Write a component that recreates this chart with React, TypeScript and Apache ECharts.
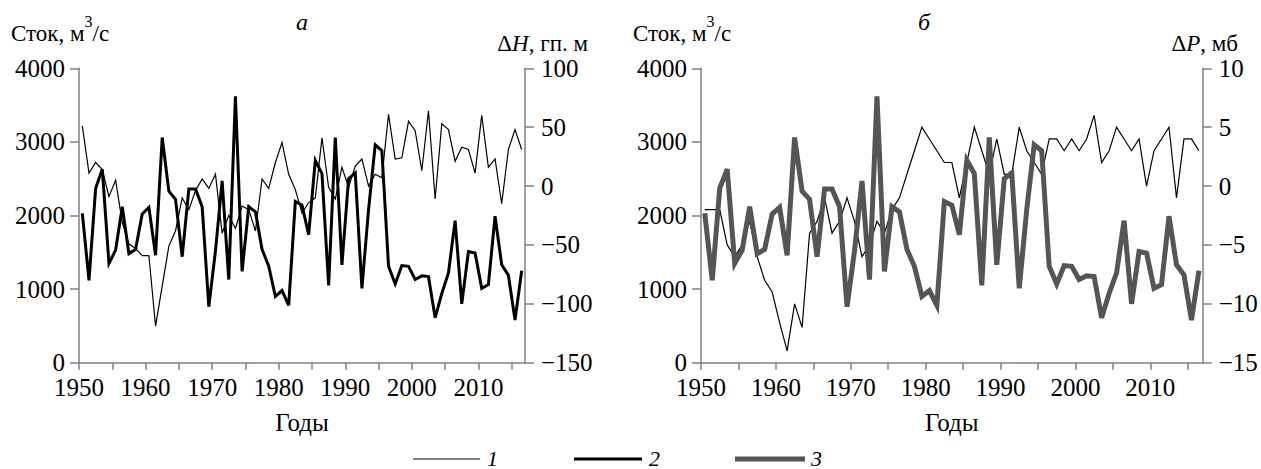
import React, { useEffect, useRef } from 'react';
import * as echarts from 'echarts';

const years = [
  1950, 1951, 1952, 1953, 1954, 1955, 1956, 1957, 1958, 1959,
  1960, 1961, 1962, 1963, 1964, 1965, 1966, 1967, 1968, 1969,
  1970, 1971, 1972, 1973, 1974, 1975, 1976, 1977, 1978, 1979,
  1980, 1981, 1982, 1983, 1984, 1985, 1986, 1987, 1988, 1989,
  1990, 1991, 1992, 1993, 1994, 1995, 1996, 1997, 1998, 1999,
  2000, 2001, 2002, 2003, 2004, 2005, 2006, 2007, 2008, 2009,
  2010, 2011, 2012, 2013, 2014, 2015, 2016,
];

// Сток, м3/с (thick lines, same in both panels)
const runoff = [
  2030, 1120, 2370, 2630, 1350, 1530, 2120, 1480, 1540, 2020,
  2110, 1460, 3060, 2330, 2220, 1440, 2360, 2360, 2120, 760,
  1520, 2470, 1130, 3620, 1240, 2120, 2050, 1540, 1310, 900,
  980, 780, 2190, 2140, 1740, 2750, 2570, 1050, 3060, 1330,
  2500, 2580, 1010, 2080, 2960, 2880, 1310, 1070, 1320, 1310,
  1130, 1180, 1170, 610, 940, 1220, 1930, 800, 1510, 1490,
  1010, 1060, 1990, 1330, 1190, 580, 1250,
];

// ΔH, гп. м (thin line, panel а)
const deltaH = [
  51, 11, 20, 14, -9, 5, -31, -49, -53, -59,
  -59, -119, -85, -51, -38, -10, -20, -4, 6, -2,
  10, -40, -25, -36, -17, -20, -38, 6, -2, 20,
  37, 10, -3, -23, -14, -10, 41, -1, -11, 16,
  -1, 17, 23, 0, 10, 7, 61, 23, 24, 55,
  47, 13, 64, -11, 53, 48, 21, 33, 31, 11,
  60, 16, 23, -15, 31, 48, 31,
];

// ΔP, мб (thin line, panel б)
const deltaP = [
  -2, -2, -2, -5, -6, -5, -3, -6, -8, -9,
  -11.6, -14, -10, -12, -4, -3, -1, -4, -3, -1,
  -3, -6, -5, -3, -4, -2, -1, 1, 3, 5,
  4, 3, 2, 2, -1, 2, 5, 3, 1, 4,
  1, 1, 5, 3, 2, 1, 4, 4, 3, 4,
  3, 4, 6, 2, 3, 5, 4, 3, 4, 0,
  3, 4, 5, -1, 4, 4, 3,
];

const xTickValues = [1950, 1955, 1960, 1965, 1970, 1975, 1980, 1985, 1990, 1995, 2000, 2005, 2010, 2015];
const xLabelValues = [1950, 1960, 1970, 1980, 1990, 2000, 2010];
const legendLabels = ['1', '2', '3'];

const FONT = 'Liberation Serif, Times New Roman, serif';
const AXIS_COLOR = '#808080';
const GRAY = '#555555';

const fmtMinus = (v: number) => String(v).replace('-', '\u2212');

let measureCtx: CanvasRenderingContext2D | null = null;
const measure = (text: string, size: number, italic = false) => {
  if (!measureCtx) measureCtx = document.createElement('canvas').getContext('2d');
  if (!measureCtx) return text.length * size * 0.5;
  measureCtx.font = `${italic ? 'italic ' : ''}${size}px ${FONT}`;
  return measureCtx.measureText(text).width;
};

type Piece = { text: string; size: number; italic?: boolean; rise?: number };

// builds graphic texts for a run of pieces placed on a common baseline
const textRun = (x: number, baseline: number, pieces: Piece[], align: 'left' | 'right') => {
  const widths = pieces.map((p) => measure(p.text, p.size, p.italic));
  const total = widths.reduce((a, b) => a + b, 0);
  let cx = align === 'left' ? x : x - total;
  return pieces.map((p, k) => {
    const el = {
      type: 'text',
      x: cx,
      y: baseline - (p.rise || 0) - 0.35 * p.size,
      style: {
        text: p.text,
        fill: '#000',
        fontFamily: FONT,
        fontSize: p.size,
        fontStyle: p.italic ? 'italic' : 'normal',
        align: 'left',
        verticalAlign: 'middle',
      },
    };
    cx += widths[k];
    return el;
  });
};

export default function App() {
  const ref = useRef<HTMLDivElement>(null);

  useEffect(() => {
    const chart = echarts.init(ref.current!, null, { renderer: 'svg' });

    const axisLine = { show: true, onZero: false, lineStyle: { color: AXIS_COLOR, width: 1.5 } };
    const yTick = { show: true, inside: false, length: 9, lineStyle: { color: AXIS_COLOR, width: 1.5 } };
    const labelStyle = { color: '#000', fontFamily: FONT, fontSize: 25 };

    const xAxis = (gridIndex: number) => ({
      type: 'value',
      gridIndex,
      min: 1950,
      max: 2017,
      axisLine,
      axisTick: { show: true, inside: false, length: 7, lineStyle: { color: AXIS_COLOR, width: 1.5 }, customValues: xTickValues },
      axisLabel: { ...labelStyle, margin: 12, customValues: xLabelValues, formatter: (v: number) => String(v) },
      splitLine: { show: false },
      name: 'Годы',
      nameLocation: 'middle',
      nameGap: 47,
      nameTextStyle: { ...labelStyle },
    });

    const yAxis = (gridIndex: number, position: string, min: number, max: number, interval: number) => ({
      type: 'value',
      gridIndex,
      position,
      min,
      max,
      interval,
      axisLine,
      axisTick: yTick,
      axisLabel: {
        ...labelStyle,
        lineHeight: 20,
        margin: position === 'left' ? 14 : 16,
        formatter: (v: number) => fmtMinus(v),
      },
      splitLine: { show: false },
    });

    const pts = (vals: number[]) => years.map((y, i) => [y + 0.5, vals[i]]);

    const lineSeries = (
      xAxisIndex: number,
      yAxisIndex: number,
      vals: number[],
      color: string,
      width: number,
      name: string,
    ) => ({
      type: 'line',
      name,
      xAxisIndex,
      yAxisIndex,
      data: pts(vals),
      showSymbol: false,
      symbol: 'none',
      silent: true,
      lineStyle: { color, width, join: 'miter', miterLimit: 4 },
    });

    const T = 23;
    const runoffTitle: Piece[] = [
      { text: 'Сток, м', size: T },
      { text: '3', size: 16, rise: 15 },
      { text: '/с', size: T },
    ];

    const graphic: any[] = [
      ...textRun(11, 41.7, runoffTitle, 'left'),
      ...textRun(633, 41.7, runoffTitle, 'left'),
      ...textRun(588, 51.5, [
        { text: 'Δ', size: T },
        { text: 'H', size: T, italic: true },
        { text: ', гп. м', size: T },
      ], 'right'),
      ...textRun(1238, 51.5, [
        { text: 'Δ', size: T },
        { text: 'P', size: T, italic: true },
        { text: ', мб', size: T },
      ], 'right'),
      ...textRun(296, 30.7, [{ text: 'а', size: 24, italic: true }], 'left'),
      ...textRun(918, 30.7, [{ text: 'б', size: 24, italic: true }], 'left'),
    ];

    const legendY = 459;
    const legendItems = [
      { x1: 413, x2: 480, color: '#000', width: 1.2, tx: 487 },
      { x1: 574, x2: 642, color: '#000', width: 3, tx: 649 },
      { x1: 735, x2: 805, color: GRAY, width: 5, tx: 811 },
    ];
    legendItems.forEach((it, k) => {
      graphic.push({
        type: 'line',
        shape: { x1: it.x1, y1: legendY, x2: it.x2, y2: legendY },
        style: { stroke: it.color, lineWidth: it.width },
      });
      graphic.push({
        type: 'text', x: it.tx, y: legendY - 1,
        style: {
          text: legendLabels[k], fill: '#000', fontFamily: FONT, fontSize: 22,
          fontStyle: 'italic', align: 'left', verticalAlign: 'middle',
        },
      });
    });

    chart.setOption({
      animation: false,
      backgroundColor: '#fff',
      grid: [
        { left: 79, top: 68.3, width: 446, height: 294.4 },
        { left: 701, top: 68.3, width: 501.7, height: 294.4 },
      ],
      xAxis: [xAxis(0), xAxis(1)],
      yAxis: [
        yAxis(0, 'left', 0, 4000, 1000),
        yAxis(0, 'right', -150, 100, 50),
        yAxis(1, 'left', 0, 4000, 1000),
        yAxis(1, 'right', -15, 10, 5),
      ],
      series: [
        lineSeries(0, 1, deltaH, '#000', 1.2, '1'),
        lineSeries(0, 0, runoff, '#000', 3, '2'),
        lineSeries(1, 3, deltaP, '#000', 1.2, '1'),
        lineSeries(1, 2, runoff, GRAY, 5, '3'),
      ],
      graphic,
    });

    return () => chart.dispose();
  }, []);

  return <div ref={ref} style={{ position: 'fixed', left: 0, top: 0, width: 1261, height: 469 }} />;
}
